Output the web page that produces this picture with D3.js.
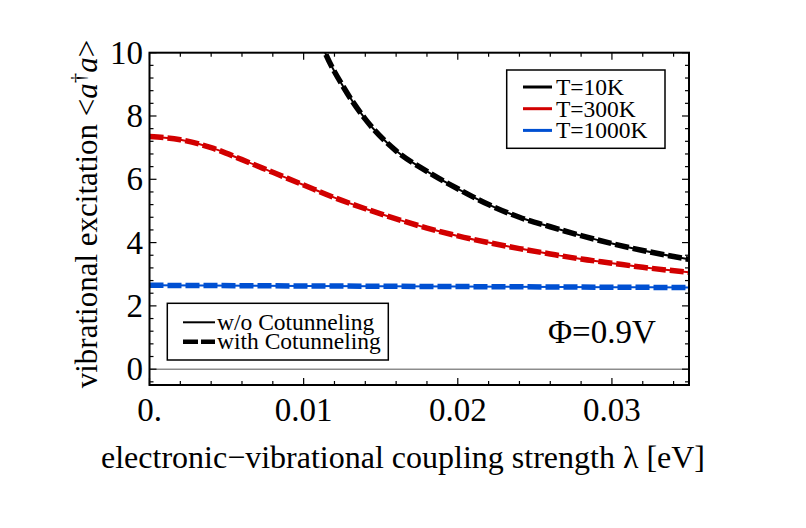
<!DOCTYPE html>
<html>
<head>
<meta charset="utf-8">
<script src="https://cdn.jsdelivr.net/npm/d3@7"></script>
<style>
  body { margin: 0; background: #fff; }
  svg { display: block; font-family: "Liberation Serif", "Times New Roman", serif; }
</style>
</head>
<body>
<svg width="806" height="528"></svg>
<script>
// values
const lamBlack = [0.0106, 0.01139, 0.0126, 0.014, 0.016, 0.018, 0.020, 0.022, 0.024, 0.026, 0.028, 0.030, 0.032, 0.035]
const valBlack = [11.0, 10.0, 8.9, 7.9, 6.9, 6.25, 5.7, 5.2, 4.8, 4.5, 4.22, 3.97, 3.75, 3.47]
const lamRed = [0, 0.002, 0.004, 0.006, 0.008, 0.010, 0.012, 0.014, 0.016, 0.018, 0.020, 0.022, 0.024, 0.026, 0.028, 0.030, 0.032, 0.035]
const valRed = [7.35, 7.25, 7.0, 6.62, 6.22, 5.82, 5.42, 5.07, 4.75, 4.46, 4.21, 4.0, 3.81, 3.64, 3.48, 3.35, 3.22, 3.06]
const lamBlue = [0, 0.01, 0.02, 0.03, 0.035]
const valBlue = [2.65, 2.63, 2.61, 2.59, 2.58]

const seriesNames = ["T=10K", "T=300K", "T=1000K"]
const seriesColors = ["#000000", "#d20000", "#0050d2"]
const styleNames = ["w/o Cotunneling", "with Cotunneling"]
const xTicks = [0, 0.01, 0.02, 0.03]
const xTickLabels = ["0.", "0.01", "0.02", "0.03"]
const yTicks = [0, 2, 4, 6, 8, 10]

const pLeft = 149.5, pRight = 689, pTop = 52.7, pBottom = 385

const svg = d3.select("svg")
const x = d3.scaleLinear().domain([0, 0.035]).range([pLeft, pRight])
const y = d3.scaleLinear().domain([-0.5, 10]).range([pBottom, pTop])

svg.append("clipPath").attr("id", "clip")
	.append("rect").attr("x", pLeft).attr("y", pTop).attr("width", pRight - pLeft).attr("height", pBottom - pTop)

// zero line
svg.append("line")
	.attr("x1", pLeft).attr("x2", pRight).attr("y1", y(0)).attr("y2", y(0))
	.style("stroke", "#555").style("stroke-width", 1)

const series = [
	{ lam: lamBlack, val: valBlack },
	{ lam: lamRed, val: valRed },
	{ lam: lamBlue, val: valBlue }
]
const line = d3.line().x(d => x(d[0])).y(d => y(d[1])).curve(d3.curveMonotoneX)
const g = svg.append("g").attr("clip-path", "url(#clip)")
series.forEach((s, i) => {
	const pts = s.lam.map((l, j) => [l, s.val[j]])
	g.append("path").attr("d", line(pts))
		.style("fill", "none").style("stroke", seriesColors[i]).style("stroke-width", 2)
	g.append("path").attr("d", line(pts))
		.style("fill", "none").style("stroke", seriesColors[i]).style("stroke-width", 5.5)
		.style("stroke-dasharray", "14,4")
})

// frame
svg.append("rect").attr("x", pLeft).attr("y", pTop).attr("width", pRight - pLeft).attr("height", pBottom - pTop)
	.style("fill", "none").style("stroke", "#000").style("stroke-width", 2)

// ticks, inward on all four sides
const xMinor = d3.range(0, 0.0351, 0.002).filter(v => !xTicks.some(t => Math.abs(t - v) < 1e-9))
const yMinor = d3.range(-0.4, 10, 0.4).filter(v => !yTicks.some(t => Math.abs(t - v) < 1e-9))
const tk = svg.append("g").style("stroke", "#000").style("stroke-width", 1.2)
xTicks.forEach(v => {
	tk.append("line").attr("x1", x(v)).attr("x2", x(v)).attr("y1", pBottom).attr("y2", pBottom - 7)
	tk.append("line").attr("x1", x(v)).attr("x2", x(v)).attr("y1", pTop).attr("y2", pTop + 7)
})
xMinor.forEach(v => {
	tk.append("line").attr("x1", x(v)).attr("x2", x(v)).attr("y1", pBottom).attr("y2", pBottom - 4)
	tk.append("line").attr("x1", x(v)).attr("x2", x(v)).attr("y1", pTop).attr("y2", pTop + 4)
})
yTicks.forEach(v => {
	tk.append("line").attr("x1", pLeft).attr("x2", pLeft + 7).attr("y1", y(v)).attr("y2", y(v))
	tk.append("line").attr("x1", pRight).attr("x2", pRight - 7).attr("y1", y(v)).attr("y2", y(v))
})
yMinor.forEach(v => {
	tk.append("line").attr("x1", pLeft).attr("x2", pLeft + 4).attr("y1", y(v)).attr("y2", y(v))
	tk.append("line").attr("x1", pRight).attr("x2", pRight - 4).attr("y1", y(v)).attr("y2", y(v))
})

// tick labels
svg.selectAll(".xl").data(xTicks).enter().append("text")
	.attr("x", d => x(d)).attr("y", 421)
	.attr("text-anchor", "middle").style("font-size", "33px")
	.text((d, i) => xTickLabels[i])
svg.selectAll(".yl").data(yTicks).enter().append("text")
	.attr("x", 143).attr("y", d => y(d) + 11)
	.attr("text-anchor", "end").style("font-size", "33px")
	.text(d => d)

// axis labels
svg.append("text").attr("x", 403).attr("y", 468).attr("text-anchor", "middle")
	.style("font-size", "32px").text("electronic\u2212vibrational coupling strength \u03bb [eV]")
const yl = svg.append("text").attr("transform", "translate(97,214) rotate(-90)")
	.attr("text-anchor", "middle").style("font-size", "31px")
yl.append("tspan").text("vibrational excitation <")
yl.append("tspan").style("font-style", "italic").text("a")
yl.append("tspan").attr("dy", -12).style("font-size", "21px").text("\u2020")
yl.append("tspan").attr("dy", 12).style("font-style", "italic").text("a")
yl.append("tspan").text(">")

// legend: temperatures
svg.append("rect").attr("x", 506.7).attr("y", 70).attr("width", 158.3).attr("height", 78.3)
	.style("fill", "#fff").style("stroke", "#000").style("stroke-width", 1.5)
seriesNames.forEach((n, i) => {
	const yy = 87 + i * 21.7
	svg.append("line").attr("x1", 523).attr("x2", 552).attr("y1", yy).attr("y2", yy)
		.style("stroke", seriesColors[i]).style("stroke-width", 3)
	svg.append("text").attr("x", 556).attr("y", yy + 8).style("font-size", "23.5px").text(n)
})

// legend: line styles
svg.append("rect").attr("x", 167.3).attr("y", 303.3).attr("width", 221).attr("height", 56.7)
	.style("fill", "#fff").style("stroke", "#000").style("stroke-width", 1.5)
styleNames.forEach((n, i) => {
	const yy = 322.3 + i * 19.5
	svg.append("line").attr("x1", 183).attr("x2", 215).attr("y1", yy).attr("y2", yy)
		.style("stroke", "#000").style("stroke-width", i ? 4.5 : 2)
		.style("stroke-dasharray", i ? "15,3" : null)
	svg.append("text").attr("x", 217).attr("y", yy + 7.5).style("font-size", "23.5px").text(n)
})

svg.append("text").attr("x", 548).attr("y", 343).style("font-size", "33px").text("\u03a6=0.9V")
</script>
</body>
</html>
